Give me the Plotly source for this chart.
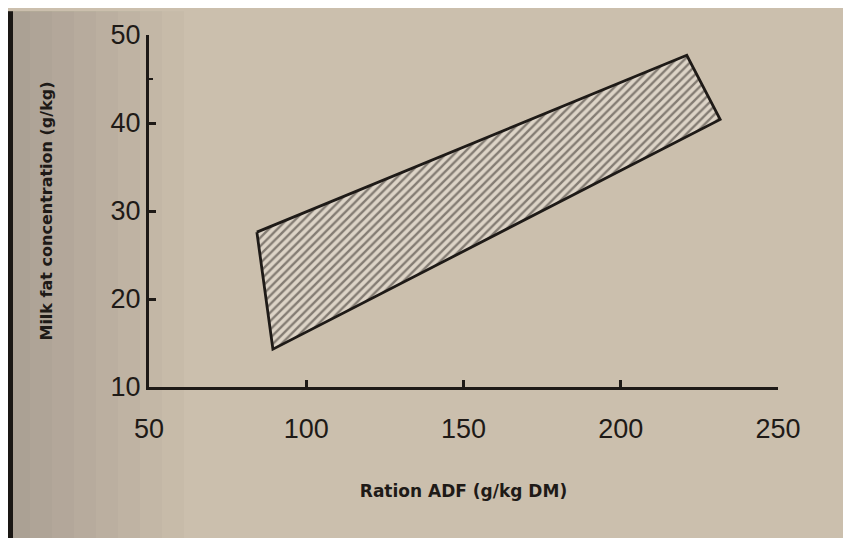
import plotly.graph_objects as go

# Band of milk fat concentration vs ration ADF (polygon corners)
band_adf = [84.3, 221.0, 231.6, 89.4, 84.3]
band_fat = [27.6, 47.7, 40.4, 14.3, 27.6]

x_ticks = [50, 100, 150, 200, 250]
y_ticks = [10, 20, 30, 40, 50]

ink = "#1e1a17"
paper = "#cbbfad"

fig = go.Figure()
fig.add_trace(go.Scatter(
    x=band_adf, y=band_fat, mode="lines",
    line=dict(color=ink, width=2.8),
    fill="toself",
    fillcolor="#d9d0c3",
    fillpattern=dict(shape="/", fgcolor="#2a2420", bgcolor="#ddd4c7",
                     size=6, solidity=0.4),
    hoverinfo="skip", showlegend=False,
))

tick_font = "Liberation Sans, Arial, sans-serif"
title_font = "DejaVu Sans, Verdana, sans-serif"

L, T, PW, PH = 141, 24, 629, 355
R = 851 - L - PW
B = 538 - T - PH

fig.update_layout(
    width=851, height=538,
    margin=dict(l=L, r=R, t=T, b=B),
    paper_bgcolor=paper, plot_bgcolor="rgba(0,0,0,0)",
    showlegend=False,
    font=dict(family=tick_font, color=ink),
    xaxis=dict(
        range=[50, 250], tickvals=x_ticks, ticktext=[str(v) for v in x_ticks],
        showgrid=False, zeroline=False,
        showline=True, linecolor=ink, linewidth=3,
        ticks="inside", ticklen=7, tickwidth=2.5, tickcolor=ink,
        tickfont=dict(size=27, color=ink, family=tick_font), ticklabelstandoff=16,
        title=dict(text="<b>Ration ADF (g/kg DM)</b>",
                   font=dict(size=17, color=ink, family=title_font),
                   standoff=42),
    ),
    yaxis=dict(
        range=[10, 50], tickvals=y_ticks, ticktext=[str(v) for v in y_ticks],
        showgrid=False, zeroline=False,
        showline=True, linecolor=ink, linewidth=3,
        ticks="inside", ticklen=7, tickwidth=2.5, tickcolor=ink,
        tickfont=dict(size=27, color=ink, family=tick_font), ticklabelstandoff=0,
        minor=dict(tickmode="array", tickvals=[45], ticks="inside",
                   ticklen=4, tickwidth=2, tickcolor=ink),
        title=dict(text="<b>Milk fat concentration (g/kg)</b>",
                   font=dict(size=16, color=ink, family=title_font), standoff=54),
    ),
)

# soft darkening toward the left of the photographed page
for i in range(8):
    fig.add_shape(type="rect", xref="paper", yref="paper",
                  x0=-L/PW, x1=(-L + 22 * (i + 1))/PW, y0=-B/PH, y1=1 + T/PH,
                  fillcolor="#3a2e20", opacity=0.025, line_width=0, layer="below")

# dark photo edges (left and bottom)
fig.add_shape(type="rect", xref="paper", yref="paper",
              x0=-L/PW, x1=(-L + 5)/PW, y0=-B/PH, y1=1 + T/PH,
              fillcolor="#1a1714", line_width=0, layer="below")
fig.add_shape(type="rect", xref="paper", yref="paper",
              x0=-L/PW, x1=1 + R/PW, y0=-B/PH, y1=(-B + 6)/PH,
              fillcolor="#1a1714", line_width=0, layer="below")

fig.write_html("out.html")
